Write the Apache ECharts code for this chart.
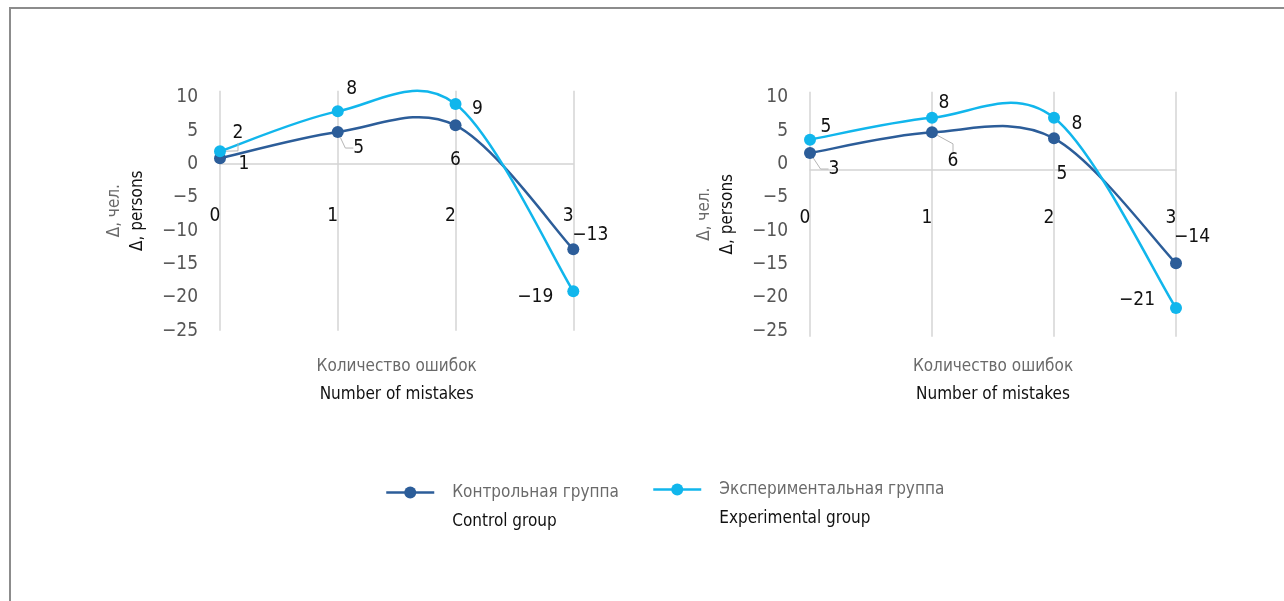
<!DOCTYPE html>
<html>
<head>
<meta charset="utf-8">
<script src="https://cdn.jsdelivr.net/npm/echarts@6/dist/echarts.min.js"></script>
<style>
html,body{margin:0;padding:0;background:#fff;}
#chart{width:1284px;height:601px;}
</style>
</head>
<body>
<div id="chart"></div>
<script>
// ---- data ----
const categories = ['0', '1', '2', '3'];
const controlLeft = [0.85, 4.8, 5.8, -12.8];
const experimentalLeft = [1.9, 7.9, 9.0, -19.1];
const controlRight = [2.55, 5.65, 4.75, -14.0];
const experimentalRight = [4.56, 7.84, 7.84, -20.7];
const yMin = -25, yInterval = 5;
const seriesNames = ['Контрольная группа', 'Экспериментальная группа'];
const seriesNamesEn = ['Control group', 'Experimental group'];
const xNameRu = 'Количество ошибок', xNameEn = 'Number of mistakes';
const yNameRu = 'Δ, чел.', yNameEn = 'Δ, persons';

// ---- styles ----
const FONT = '"DejaVu Sans Condensed", "Liberation Sans Narrow", sans-serif';
const C_CONTROL = '#2c5d99';
const C_EXP = '#11b6ec';
const GRID_C = '#d4d4d4';
const GRAY_T = '#6a6a6a';
const BLACK_T = '#111';

// label offsets (dx, dy) from the point, per panel/series
const offs = {
  cl: [[24, 6], [21, 16], [0, 35], [17, -14]],
  el: [[18, -18], [14, -22], [22, 5], [-38, 6]],
  cr: [[24, 16], [21, 29], [8, 36], [16, -26]],
  er: [[16, -13], [12, -15], [23, 6], [-39, -8]]
};
const leaders = { cl: [1], el: [0], cr: [0, 1], er: [] };

function fmtNum(v) { return v < 0 ? '−' + Math.abs(v) : String(v); }

function makeData(values, key) {
  return values.map((v, i) => leaders[key].indexOf(i) >= 0
    ? { value: v, labelLine: { show: true } }
    : v);
}

// points + labels (line itself drawn by the curve series below)
function makeSeries(name, values, color, gi, key) {
  return {
    type: 'line', name: name, xAxisIndex: gi, yAxisIndex: gi,
    data: makeData(values, key),
    z: 3,
    symbol: 'circle', symbolSize: 12,
    lineStyle: { color: color, width: 2.5, opacity: 0 },
    itemStyle: { color: color },
    label: {
      show: true, position: 'inside', color: BLACK_T,
      fontFamily: FONT, fontSize: 19,
      formatter: p => fmtNum(Math.round(p.value))
    },
    labelLine: { show: false, length2: 8, lineStyle: { color: '#b5b5b5', width: 1 } },
    labelLayout: p => ({ dx: offs[key][p.dataIndex][0], dy: offs[key][p.dataIndex][1] }),
    emphasis: { disabled: true }
  };
}

// cardinal (Catmull-Rom) curve through the data points, positioned by the axes
function curveSeries(values, color, gi) {
  return {
    type: 'custom', name: 'curve' + gi + color, xAxisIndex: gi, yAxisIndex: gi,
    data: values.map((v, i) => [i, v]), encode: { x: 0, y: 1 },
    silent: true, z: 2,
    renderItem: (params, api) => {
      if (params.dataIndex !== 0) return null;
      const pts = values.map((v, i) => api.coord([i, v]));
      let d = 'M' + pts[0][0] + ' ' + pts[0][1];
      for (let i = 0; i < pts.length - 1; i++) {
        const p0 = pts[Math.max(i - 1, 0)], p1 = pts[i], p2 = pts[i + 1], p3 = pts[Math.min(i + 2, pts.length - 1)];
        const c1 = [p1[0] + (p2[0] - p0[0]) / 6, p1[1] + (p2[1] - p0[1]) / 6];
        const c2 = [p2[0] - (p3[0] - p1[0]) / 6, p2[1] - (p3[1] - p1[1]) / 6];
        d += ' C' + c1[0] + ' ' + c1[1] + ' ' + c2[0] + ' ' + c2[1] + ' ' + p2[0] + ' ' + p2[1];
      }
      return { type: 'path', shape: { pathData: d }, style: { stroke: color, lineWidth: 2.5, fill: null } };
    }
  };
}

function makeX(gi, margin, nameGap) {
  return {
    type: 'category', gridIndex: gi, data: categories, boundaryGap: false,
    axisLine: { show: true, onZero: true, lineStyle: { color: GRID_C, width: 1.5 } },
    axisTick: { show: false },
    axisLabel: { color: BLACK_T, fontFamily: FONT, fontSize: 19, margin: margin, padding: [0, 10, 0, 0] },
    splitLine: { show: true, interval: 0, lineStyle: { color: GRID_C, width: 1.5 } },
    name: '{a|' + xNameRu + '}\n{b|' + xNameEn + '}',
    nameLocation: 'middle', nameGap: nameGap,
    nameTextStyle: {
      rich: {
        a: { color: GRAY_T, fontFamily: FONT, fontSize: 17, lineHeight: 28 },
        b: { color: BLACK_T, fontFamily: FONT, fontSize: 17, lineHeight: 28 }
      }
    }
  };
}

function makeY(gi, max, shiftUp) {
  const lbl = {
    color: '#555', fontFamily: FONT, fontSize: 19, margin: 22, showMaxLabel: false,
    formatter: v => fmtNum(v)
  };
  if (shiftUp) { lbl.verticalAlign = 'bottom'; lbl.lineHeight = 12; }
  return {
    type: 'value', gridIndex: gi, min: yMin, max: max, interval: yInterval,
    axisLine: { show: false }, axisTick: { show: false }, splitLine: { show: false },
    axisLabel: lbl,
    name: '{a|' + yNameRu + '}\n{b|' + yNameEn + '}',
    nameLocation: 'middle', nameRotate: 90, nameGap: 71,
    nameTextStyle: {
      rich: {
        a: { color: GRAY_T, fontFamily: FONT, fontSize: 17, lineHeight: 23 },
        b: { color: BLACK_T, fontFamily: FONT, fontSize: 17, lineHeight: 23 }
      }
    }
  };
}

function legendFmt(name) {
  const i = seriesNames.indexOf(name);
  return '{a|' + name + '}\n{b|' + seriesNamesEn[i] + '}';
}
function makeLegend(name, left, top) {
  return {
    data: [name], left: left, top: top, padding: 0, itemWidth: 48, itemHeight: 15,
    selectedMode: false, formatter: legendFmt,
    lineStyle: { width: 2.5, opacity: 1 },
    textStyle: {
      padding: [29, 0, 0, 13],
      rich: {
        a: { color: GRAY_T, fontFamily: FONT, fontSize: 17, lineHeight: 29 },
        b: { color: BLACK_T, fontFamily: FONT, fontSize: 17, lineHeight: 29 }
      }
    }
  };
}

const chart = echarts.init(document.getElementById('chart'), null, { renderer: 'canvas' });
chart.setOption({
  animation: false,
  backgroundColor: '#fff',
  graphic: [
    { type: 'line', shape: { x1: 9, y1: 8, x2: 1284, y2: 8 }, style: { stroke: '#8c8c8c', lineWidth: 2 } },
    { type: 'line', shape: { x1: 10, y1: 7, x2: 10, y2: 601 }, style: { stroke: '#8c8c8c', lineWidth: 2 } }
  ],
  legend: [
    makeLegend(seriesNames[0], 385, 484),
    makeLegend(seriesNames[1], 652, 481)
  ],
  grid: [
    { left: 220, top: 90.7, width: 353.3, height: 240 },
    { left: 810, top: 91.7, width: 366, height: 245 }
  ],
  xAxis: [makeX(0, -124, 22.3), makeX(1, -128.3, 16.3)],
  yAxis: [makeY(0, 11, false), makeY(1, 11.75, true)],
  series: [
    curveSeries(controlLeft, C_CONTROL, 0),
    curveSeries(experimentalLeft, C_EXP, 0),
    curveSeries(controlRight, C_CONTROL, 1),
    curveSeries(experimentalRight, C_EXP, 1),
    makeSeries(seriesNames[0], controlLeft, C_CONTROL, 0, 'cl'),
    makeSeries(seriesNames[1], experimentalLeft, C_EXP, 0, 'el'),
    makeSeries(seriesNames[0], controlRight, C_CONTROL, 1, 'cr'),
    makeSeries(seriesNames[1], experimentalRight, C_EXP, 1, 'er')
  ]
});
</script>
</body>
</html>
